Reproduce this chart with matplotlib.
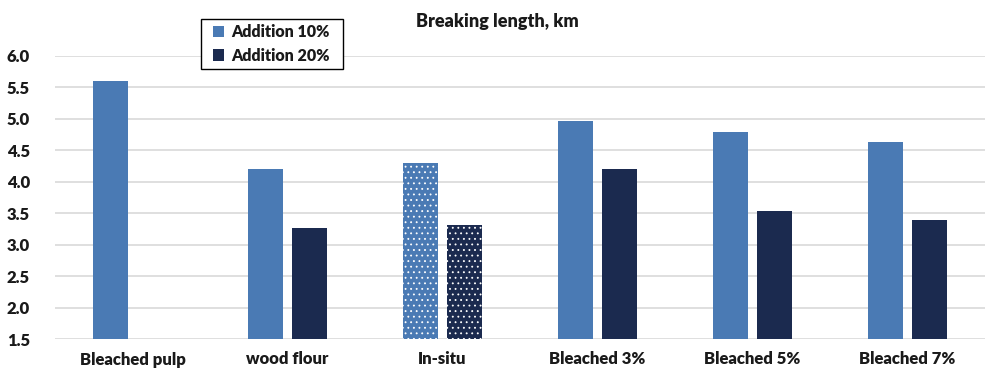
import matplotlib.pyplot as plt
from matplotlib.patches import Rectangle
import numpy as np

categories = ["Bleached pulp", "wood flour", "In-situ", "Bleached 3%", "Bleached 5%", "Bleached 7%"]
add_10 = [5.60, 4.20, 4.30, 4.96, 4.79, 4.63]
add_20 = [np.nan, 3.26, 3.31, 4.21, 3.54, 3.39]
dotted = [False, False, True, False, False, False]

plt.rcParams['font.family'] = ['Lato', 'DejaVu Sans']
plt.rcParams['hatch.linewidth'] = 0.6

c10 = '#4a7ab4'
c20 = '#1b2a4f'
txt = '#1a1a1a'

fig = plt.figure(figsize=(10.06, 3.83), dpi=100)
ax = fig.add_axes([55 / 1006, 44 / 383, 930 / 1006, (339 - 56) / 383])

x = np.arange(len(categories))
w = 0.226
off = 0.145

for i in range(len(categories)):
    hatch = '...' if dotted[i] else None
    ax.bar(x[i] - off, add_10[i], w, color=c10, edgecolor='white' if dotted[i] else c10,
           linewidth=0, hatch=hatch, label="Addition 10%" if i == 0 else None, zorder=3)
    if not np.isnan(add_20[i]):
        ax.bar(x[i] + off, add_20[i], w, color=c20, edgecolor='white' if dotted[i] else c20,
               linewidth=0, hatch=hatch, label="Addition 20%" if i == 1 else None, zorder=3)

ax.set_ylim(1.5, 6.0)
ax.set_xlim(-0.5, len(categories) - 0.5)
yt = np.arange(1.5, 6.01, 0.5)
ax.set_yticks(yt)
ax.set_yticklabels([f"{v:.1f}" for v in yt], fontsize=12, fontweight='heavy', color=txt)
ax.set_xticks(x)
ax.set_xticklabels(categories, fontsize=12, fontweight='heavy', color=txt)
ax.tick_params(length=0, axis='y', pad=18)
ax.tick_params(length=0, axis='x', pad=9)
ax.grid(axis='y', color='#d9d9d9', linewidth=1.2, zorder=0)
for s in ax.spines.values():
    s.set_visible(False)

fig.text(497 / 1006, 1 - 21 / 383, "Breaking length, km", ha='center', va='center', fontsize=13, fontweight='heavy', color=txt)

# legend box drawn separately so the padding matches
fig.patches.append(Rectangle((201 / 1006, 1 - 69 / 383), 142 / 1006, 50 / 383, transform=fig.transFigure,
                             facecolor='white', edgecolor='black', linewidth=1.0, zorder=4))
leg = fig.legend(loc='center left', bbox_to_anchor=(213 / 1006, 1 - 44 / 383), frameon=False,
                 prop={'weight': 'heavy', 'size': 11.5}, handlelength=0.7, handleheight=0.7, handletextpad=0.45,
                 borderpad=0, labelspacing=0.45, borderaxespad=0)
leg.set_zorder(5)
for t in leg.get_texts():
    t.set_color(txt)

fig.savefig("out.png", dpi=100)
